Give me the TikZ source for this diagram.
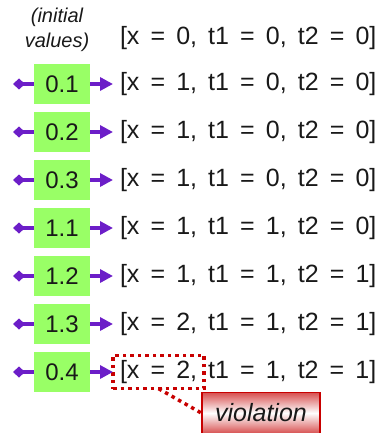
\documentclass[tikz,border=0pt]{standalone}
\usepackage{fontspec}
\setmainfont{Liberation Sans}[WordSpace=1.6]
\usepackage{xcolor}
\usepackage{tikz}
\usetikzlibrary{arrows.meta, positioning}
\definecolor{stepgreen}{RGB}{153,255,102}
\definecolor{linkpurple}{RGB}{108,30,200}
\definecolor{alarmred}{RGB}{200,0,0}
\definecolor{alarmpink}{RGB}{215,80,80}
\definecolor{ink}{RGB}{25,25,25}

\begin{document}
\begin{tikzpicture}[x=1pt, y=-1pt,
  node distance=8pt,
  stepbox/.style={rectangle, fill=stepgreen, minimum width=56pt, minimum height=40pt,
              inner sep=0pt, outer sep=0pt, text=ink, font=\fontsize{24}{28}\selectfont},
  state/.style={inner xsep=7pt, inner ysep=5pt, outer sep=0pt, text=ink,
              font=\fontsize{25}{30}\selectfont},
  fwd/.style={-{Triangle[length=13pt, width=13pt]}, line width=4pt, draw=linkpurple},
  back/.style={-{Diamond[length=12pt, width=11pt]}, line width=4pt, draw=linkpurple},
  marked/.style={draw=alarmred, line width=3.5pt, dash pattern=on 3.5pt off 4pt},
  alarm/.style={rectangle, draw=alarmred, line width=1.5pt, minimum width=118pt,
              minimum height=41pt, top color=alarmpink, bottom color=alarmpink,
              middle color=white, text=ink, font=\fontsize{25}{30}\selectfont\itshape}]

  \useasboundingbox (0,0) rectangle (384,433);

  \node[align=center, text=ink, font=\fontsize{20}{25}\selectfont\itshape] (init) at (57,30) {(initial\\values)};
  \node[state, anchor=west] (s0) at (113,38) {[x = 0, t1 = 0, t2 = 0]};

  \node[stepbox] (b1) at (62,84) {0.1};
  \node[stepbox, below=of b1] (b2) {0.2};
  \node[stepbox, below=of b2] (b3) {0.3};
  \node[stepbox, below=of b3] (b4) {1.1};
  \node[stepbox, below=of b4] (b5) {1.2};
  \node[stepbox, below=of b5] (b6) {1.3};
  \node[stepbox, below=of b6] (b7) {0.4};

  \node[state, right=23pt of b1] (s1) {[x = 1, t1 = 0, t2 = 0]};
  \node[state, right=23pt of b2] (s2) {[x = 1, t1 = 0, t2 = 0]};
  \node[state, right=23pt of b3] (s3) {[x = 1, t1 = 0, t2 = 0]};
  \node[state, right=23pt of b4] (s4) {[x = 1, t1 = 1, t2 = 0]};
  \node[state, right=23pt of b5] (s5) {[x = 1, t1 = 1, t2 = 1]};
  \node[state, right=23pt of b6] (s6) {[x = 2, t1 = 1, t2 = 1]};
  \node[state, marked, right=23pt of b7] (s7) {[x = 2,};
  \node[state, inner xsep=0pt, anchor=base west] (s7r) at (s7.base east) {\hspace{4pt}t1 = 1, t2 = 1]};

  \coordinate[left=21pt of b1] (l1);
  \coordinate[left=21pt of b2] (l2);
  \coordinate[left=21pt of b3] (l3);
  \coordinate[left=21pt of b4] (l4);
  \coordinate[left=21pt of b5] (l5);
  \coordinate[left=21pt of b6] (l6);
  \coordinate[left=21pt of b7] (l7);

  \draw[back] (b1) -- (l1);
  \draw[back] (b2) -- (l2);
  \draw[back] (b3) -- (l3);
  \draw[back] (b4) -- (l4);
  \draw[back] (b5) -- (l5);
  \draw[back] (b6) -- (l6);
  \draw[back] (b7) -- (l7);

  \draw[fwd] (b1) -- (s1);
  \draw[fwd] (b2) -- (s2);
  \draw[fwd] (b3) -- (s3);
  \draw[fwd] (b4) -- (s4);
  \draw[fwd] (b5) -- (s5);
  \draw[fwd] (b6) -- (s6);
  \draw[fwd] (b7) -- (s7);

  \node[alarm] (viol) at (261,413) {violation};
  \draw[draw=alarmred, line width=3.5pt, dash pattern=on 3.5pt off 4pt] (s7.south) -- (viol.west);
\end{tikzpicture}
\end{document}
